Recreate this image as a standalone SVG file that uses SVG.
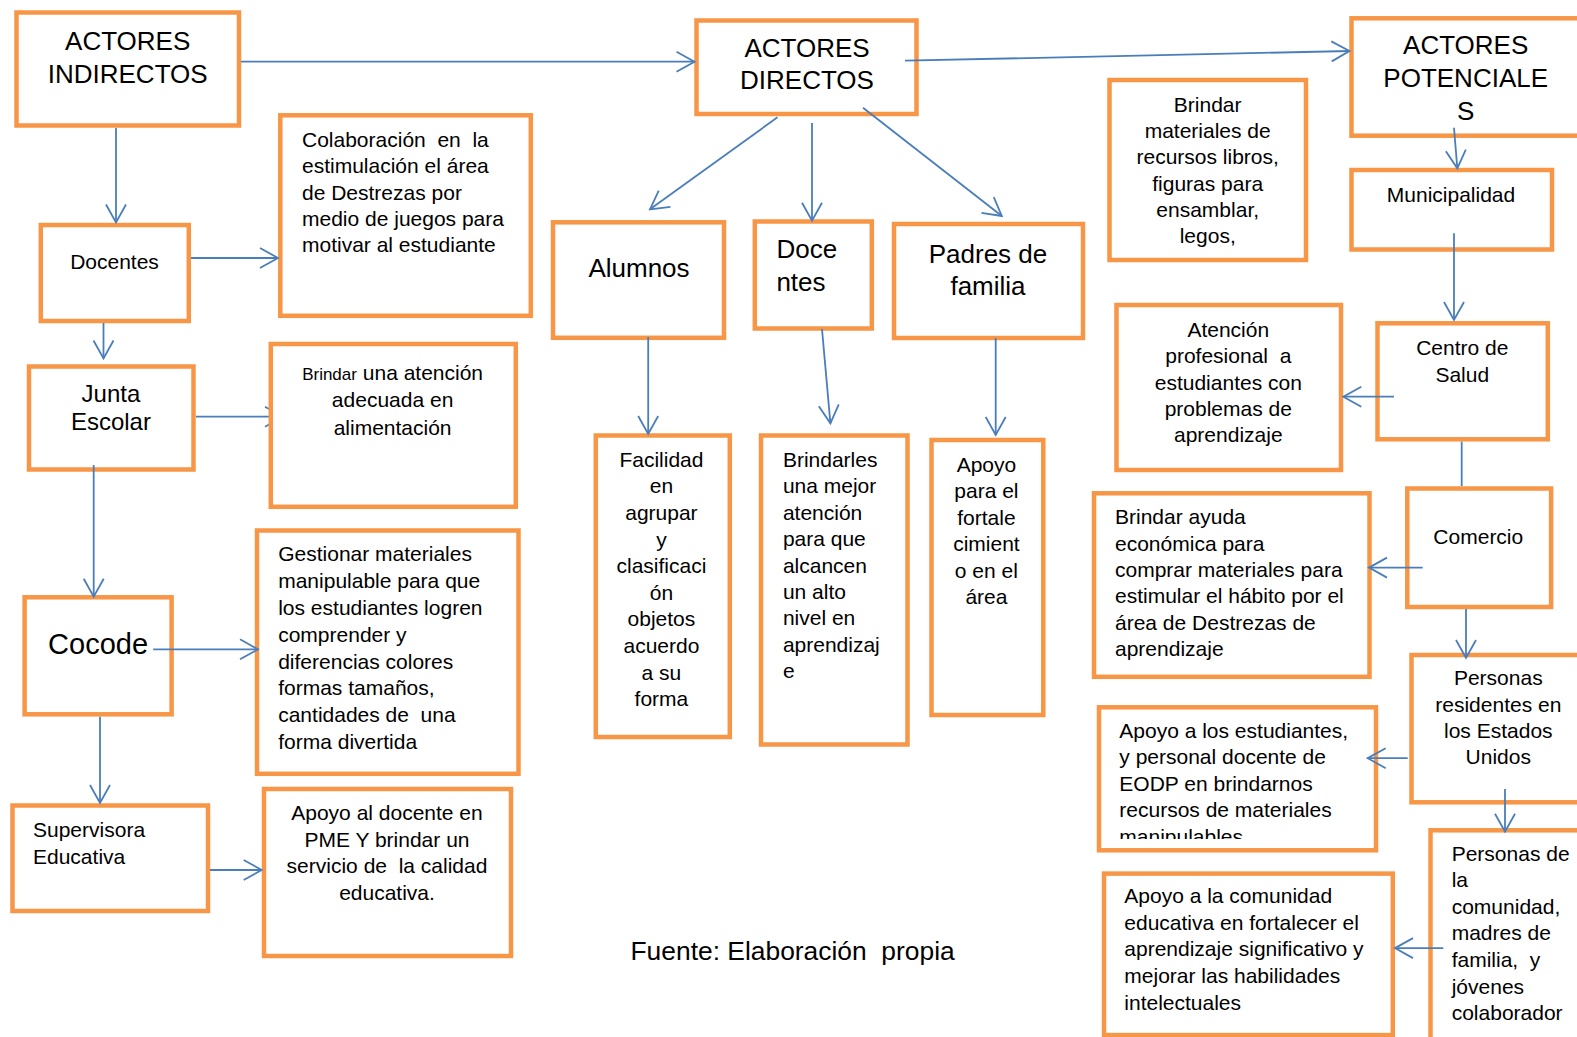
<svg xmlns="http://www.w3.org/2000/svg" width="1577" height="1037" viewBox="0 0 1577 1037">
<style>
.box{fill:#fff;stroke:#F79646;stroke-width:4.5}
.c{fill:none;stroke:#4A7EBB;stroke-width:1.8}
.a{marker-end:url(#arr)}
text{font-family:"Liberation Sans",Arial,sans-serif;fill:#000}
.s{font-size:21px}
.L{font-size:26px}
.m{text-anchor:middle}
</style>
<defs>
<marker id="arr" markerUnits="userSpaceOnUse" viewBox="-20 -12 22 24" refX="0" refY="0" markerWidth="22" markerHeight="24" orient="auto">
<path d="M-18,-10 L0,0 L-18,10" fill="none" stroke="#4A7EBB" stroke-width="1.8"/>
</marker>
<clipPath id="clipMat"><rect x="1100" y="70" width="220" height="177.5"/></clipPath>
<clipPath id="clipEst"><rect x="1090" y="700" width="300" height="139"/></clipPath>
</defs>
<rect width="1577" height="1037" fill="#fff"/>

<g id="n-indirectos"><rect class="box" x="16.5" y="12.5" width="222.5" height="113"/>
<text class="L m"><tspan x="127.7" y="50">ACTORES</tspan><tspan x="127.7" y="82.5">INDIRECTOS</tspan></text></g>

<g id="n-directos"><rect class="box" x="696.5" y="20.5" width="220" height="93.5"/>
<text class="L m"><tspan x="807" y="56.7">ACTORES</tspan><tspan x="807" y="89.3">DIRECTOS</tspan></text></g>

<g id="n-potenciales"><rect class="box" x="1351.5" y="18.3" width="240" height="117.4"/>
<text class="L m"><tspan x="1465.7" y="54.3">ACTORES</tspan><tspan x="1465.7" y="87.3">POTENCIALE</tspan><tspan x="1465.7" y="120">S</tspan></text></g>

<g id="n-docentes-ind"><rect class="box" x="40.8" y="225" width="148" height="96"/>
<text class="s m" x="114.5" y="268.5">Docentes</text></g>

<g id="n-colaboracion"><rect class="box" x="280.3" y="115.3" width="250.5" height="200.5"/>
<text class="s" xml:space="preserve"><tspan x="302" y="146.7">Colaboración  en  la</tspan><tspan x="302" y="173.1">estimulación el área</tspan><tspan x="302" y="199.5">de Destrezas por</tspan><tspan x="302" y="225.9">medio de juegos para</tspan><tspan x="302" y="252.3">motivar al estudiante</tspan></text></g>

<g id="n-alumnos"><rect class="box" x="553" y="222.3" width="171" height="115.5"/>
<text class="L m" x="639" y="276.7">Alumnos</text></g>

<g id="n-docentes-dir"><rect class="box" x="754.8" y="221.5" width="117" height="107"/>
<text class="L"><tspan x="776.4" y="258.3">Doce</tspan><tspan x="776.4" y="290.5">ntes</tspan></text></g>

<g id="n-padres"><rect class="box" x="894" y="224" width="189" height="114"/>
<text class="L m"><tspan x="988" y="262.7">Padres de</tspan><tspan x="988" y="295">familia</tspan></text></g>

<g id="n-materiales"><rect class="box" x="1109.5" y="80" width="196.5" height="180"/>
<text class="s m" clip-path="url(#clipMat)"><tspan x="1207.7" y="111.7">Brindar</tspan><tspan x="1207.7" y="138">materiales de</tspan><tspan x="1207.7" y="164.3">recursos libros,</tspan><tspan x="1207.7" y="190.6">figuras para</tspan><tspan x="1207.7" y="216.9">ensamblar,</tspan><tspan x="1207.7" y="243.2">legos,</tspan></text></g>

<g id="n-municipalidad"><rect class="box" x="1351.5" y="170" width="200.5" height="79.5"/>
<text class="s m" x="1451" y="201.7">Municipalidad</text></g>

<g id="n-centro-salud"><rect class="box" x="1377.5" y="323.3" width="170.3" height="116"/>
<text class="s m"><tspan x="1462.3" y="355">Centro de</tspan><tspan x="1462.3" y="381.7">Salud</tspan></text></g>

<g id="n-atencion-prof"><rect class="box" x="1116.5" y="305" width="224.5" height="165"/>
<text class="s m" xml:space="preserve"><tspan x="1228.3" y="336.7">Atención</tspan><tspan x="1228.3" y="363.1">profesional  a</tspan><tspan x="1228.3" y="389.5">estudiantes con</tspan><tspan x="1228.3" y="415.9">problemas de</tspan><tspan x="1228.3" y="442.3">aprendizaje</tspan></text></g>

<g id="n-comercio"><rect class="box" x="1407.3" y="488.5" width="143.8" height="118.5"/>
<text class="s m" x="1478.3" y="544">Comercio</text></g>

<g id="n-ayuda"><rect class="box" x="1094" y="493.3" width="275.5" height="183.5"/>
<text class="s"><tspan x="1115" y="524.2">Brindar ayuda</tspan><tspan x="1115" y="550.6">económica para</tspan><tspan x="1115" y="577">comprar materiales para</tspan><tspan x="1115" y="603.4">estimular el hábito por el</tspan><tspan x="1115" y="629.8">área de Destrezas de</tspan><tspan x="1115" y="656.2">aprendizaje</tspan></text></g>

<g id="n-residentes"><rect class="box" x="1411.5" y="655" width="200" height="147.3"/>
<text class="s m"><tspan x="1498.3" y="685.2">Personas</tspan><tspan x="1498.3" y="711.6">residentes en</tspan><tspan x="1498.3" y="738">los Estados</tspan><tspan x="1498.3" y="764.4">Unidos</tspan></text></g>

<g id="n-apoyo-estudiantes"><rect class="box" x="1099" y="707.3" width="277" height="143"/>
<text class="s" clip-path="url(#clipEst)"><tspan x="1119.3" y="737.6">Apoyo a los estudiantes,</tspan><tspan x="1119.3" y="764.1">y personal docente de</tspan><tspan x="1119.3" y="790.6">EODP en brindarnos</tspan><tspan x="1119.3" y="817.1">recursos de materiales</tspan><tspan x="1119.3" y="843.6">manipulables</tspan></text></g>

<g id="n-apoyo-comunidad"><rect class="box" x="1104" y="873.6" width="288.8" height="161.5"/>
<text class="s"><tspan x="1124.3" y="902.7">Apoyo a la comunidad</tspan><tspan x="1124.3" y="929.6">educativa en fortalecer el</tspan><tspan x="1124.3" y="956.4">aprendizaje significativo y</tspan><tspan x="1124.3" y="983.2">mejorar las habilidades</tspan><tspan x="1124.3" y="1010">intelectuales</tspan></text></g>

<g id="n-personas-comunidad"><rect class="box" x="1430.5" y="830.3" width="200" height="250"/>
<text class="s" xml:space="preserve"><tspan x="1451.7" y="860.6">Personas de</tspan><tspan x="1451.7" y="887.1">la</tspan><tspan x="1451.7" y="913.7">comunidad,</tspan><tspan x="1451.7" y="940.3">madres de</tspan><tspan x="1451.7" y="966.9">familia,  y</tspan><tspan x="1451.7" y="993.5">jóvenes</tspan><tspan x="1451.7" y="1020.1">colaborador</tspan></text></g>

<g id="n-junta"><rect class="box" x="29" y="366.5" width="164.5" height="103"/>
<text class="m" style="font-size:24px"><tspan x="110.9" y="401.7">Junta</tspan><tspan x="110.9" y="430.3">Escolar</tspan></text></g>

<g id="n-cocode"><rect class="box" x="24.6" y="597.3" width="147" height="117"/>
<text class="m" style="font-size:29px" x="98.1" y="653.5">Cocode</text></g>

<g id="n-gestionar"><rect class="box" x="257" y="530.5" width="261.5" height="243.3"/>
<text class="s" xml:space="preserve"><tspan x="278.2" y="561.3">Gestionar materiales</tspan><tspan x="278.2" y="588.1">manipulable para que</tspan><tspan x="278.2" y="614.9">los estudiantes logren</tspan><tspan x="278.2" y="641.7">comprender y</tspan><tspan x="278.2" y="668.5">diferencias colores</tspan><tspan x="278.2" y="695.3">formas tamaños,</tspan><tspan x="278.2" y="722.1">cantidades de  una</tspan><tspan x="278.2" y="748.9">forma divertida</tspan></text></g>

<g id="n-supervisora"><rect class="box" x="12.5" y="805.5" width="195.5" height="105.5"/>
<text class="s"><tspan x="33" y="837">Supervisora</tspan><tspan x="33" y="864">Educativa</tspan></text></g>

<g id="n-apoyo-docente"><rect class="box" x="264" y="789" width="247" height="167"/>
<text class="s m" xml:space="preserve"><tspan x="387" y="820">Apoyo al docente en</tspan><tspan x="387" y="846.6">PME Y brindar un</tspan><tspan x="387" y="873.2">servicio de  la calidad</tspan><tspan x="387" y="899.8">educativa.</tspan></text></g>

<g id="n-facilidad"><rect class="box" x="595.8" y="435.5" width="134" height="301.5"/>
<text class="s m"><tspan x="661.4" y="466.7">Facilidad</tspan><tspan x="661.4" y="493.3">en</tspan><tspan x="661.4" y="519.9">agrupar</tspan><tspan x="661.4" y="546.5">y</tspan><tspan x="661.4" y="573.1">clasificaci</tspan><tspan x="661.4" y="599.7">ón</tspan><tspan x="661.4" y="626.3">objetos</tspan><tspan x="661.4" y="652.9">acuerdo</tspan><tspan x="661.4" y="679.5">a su</tspan><tspan x="661.4" y="706.1">forma</tspan></text></g>

<g id="n-brindarles"><rect class="box" x="761" y="435.5" width="146.5" height="309"/>
<text class="s"><tspan x="782.9" y="466.7">Brindarles</tspan><tspan x="782.9" y="493.2">una mejor</tspan><tspan x="782.9" y="519.6">atención</tspan><tspan x="782.9" y="546.1">para que</tspan><tspan x="782.9" y="572.5">alcancen</tspan><tspan x="782.9" y="599">un alto</tspan><tspan x="782.9" y="625.4">nivel en</tspan><tspan x="782.9" y="651.9">aprendizaj</tspan><tspan x="782.9" y="678.3">e</tspan></text></g>

<g id="n-apoyo-fortalecimiento"><rect class="box" x="931.5" y="440" width="111.8" height="275"/>
<text class="s m"><tspan x="986.4" y="471.7">Apoyo</tspan><tspan x="986.4" y="498.1">para el</tspan><tspan x="986.4" y="524.6">fortale</tspan><tspan x="986.4" y="551">cimient</tspan><tspan x="986.4" y="577.5">o en el</tspan><tspan x="986.4" y="604">área</tspan></text></g>

<g id="connectors">
<path class="c a" d="M241,61.7 L694.5,61.7"/>
<path class="c a" d="M905,60.7 L1349.5,51"/>
<path class="c a" d="M116,128 L116,222.5"/>
<path class="c a" d="M191,258 L278,258"/>
<path class="c a" d="M103.5,323 L103.5,358.5"/>
<path class="c a" d="M196,416.7 L283,416.7"/>
<path class="c a" d="M93.7,465 L93.7,596.7"/>
<path class="c a" d="M153.2,649.3 L258,649.3"/>
<path class="c a" d="M100,716.7 L100,803"/>
<path class="c a" d="M210,870 L261.7,870"/>
<path class="c a" d="M777.5,117.3 L650,209.3"/>
<path class="c a" d="M812,123 L812,220.7"/>
<path class="c a" d="M863,107.7 L1001.8,216"/>
<path class="c a" d="M648.2,337 L648.2,434"/>
<path class="c a" d="M822,329 L830.4,423.3"/>
<path class="c a" d="M995.7,338 L995.7,435"/>
<path class="c a" d="M1454,127.7 L1457.3,168.3"/>
<path class="c a" d="M1454,233.3 L1454,320"/>
<path class="c a" d="M1394,396.7 L1343.3,396.7"/>
<path class="c" d="M1461.7,441.7 L1461.7,486"/>
<path class="c a" d="M1422.7,567.6 L1369,567.6"/>
<path class="c a" d="M1466,609 L1466,658"/>
<path class="c a" d="M1407.7,758.2 L1367.7,758.2"/>
<path class="c a" d="M1505,789 L1505,831.7"/>
<path class="c a" d="M1443.3,948.1 L1395,948.1"/>
</g>

<g id="n-atencion-alimentacion"><rect class="box" x="270.8" y="344" width="245" height="162.8"/>
<text class="s m"><tspan x="392.6" y="380"><tspan style="font-size:17px">Brindar</tspan> una atención</tspan><tspan x="392.6" y="407.3">adecuada en</tspan><tspan x="392.6" y="434.7">alimentación</tspan></text></g>

<text id="fuente" style="font-size:26.4px" x="630.5" y="959.5" xml:space="preserve">Fuente: Elaboración  propia</text>
</svg>
